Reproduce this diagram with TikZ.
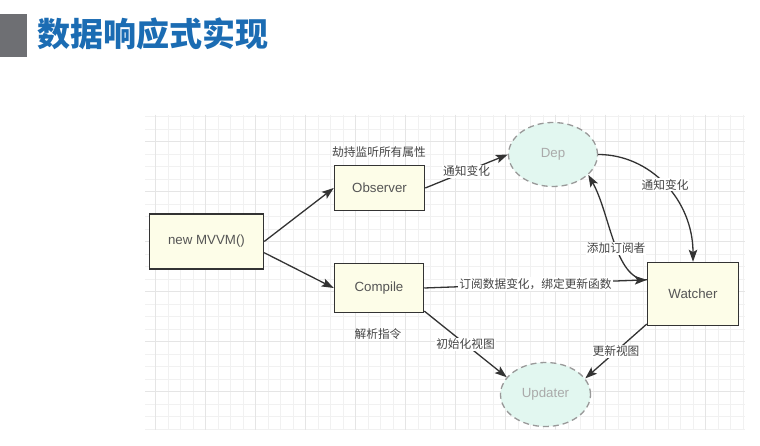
\documentclass[tikz,border=0pt]{standalone}
\usepackage{fontspec}
\setmainfont{Liberation Sans}
\newfontfamily\cjk{Noto Sans CJK SC}
\usetikzlibrary{arrows.meta,shapes.geometric}
\definecolor{boxfill}{HTML}{FDFDE8}
\definecolor{ellfill}{HTML}{E2F7F0}
\definecolor{boxline}{HTML}{333333}
\definecolor{txtgray}{HTML}{555555}
\definecolor{lbltxt}{HTML}{444444}
\definecolor{ellline}{HTML}{999999}
\definecolor{elltxt}{HTML}{AAAAAA}
\definecolor{gridminor}{HTML}{F1F1F1}
\definecolor{gridmajor}{HTML}{E5E5E5}
\definecolor{titleblue}{HTML}{1B6CB3}
\definecolor{titlegray}{HTML}{6E6F73}
\begin{document}
\begin{tikzpicture}[x=1pt,y=-1pt,
  box/.style={draw=boxline, line width=1.5pt, fill=boxfill, inner sep=0pt,
    font=\fontsize{13.3}{15}\selectfont, text=txtgray},
  ell/.style={ellipse, draw=ellline, line width=1.3pt, dash pattern=on 6pt off 4pt,
    fill=ellfill, inner sep=0pt, font=\fontsize{13.3}{15}\selectfont, text=elltxt},
  arr/.style={draw=boxline, line width=1.3pt, -{Stealth[length=12pt,width=8.5pt,inset=2.5pt]}},
  lbl/.style={midway, fill=white, inner sep=1pt, text=lbltxt, font=\cjk\fontsize{11.7}{13}\selectfont},
  txt/.style={inner sep=0pt, text=lbltxt, font=\cjk\fontsize{11.7}{13}\selectfont},
  gmin/.style={draw=gridminor, line width=0.8pt},
  gmaj/.style={draw=gridmajor, line width=0.9pt}
]
\useasboundingbox (0,0) rectangle (760,446);
\fill[white] (0,0) rectangle (760,446);
% title
\fill[titlegray] (0,14.3) rectangle (26.7,56.7);
\node[anchor=west, inner sep=0pt, text=titleblue, font=\cjk\bfseries\fontsize{33}{35}\selectfont] (title) at (37,34) {数据响应式实现};
% grid
\begin{scope}
\clip (145,115) rectangle (745,430);
\foreach \gx in {155.7,168.2,...,745} \draw[gmin] (\gx,115) -- (\gx,430);
\foreach \gy in {116.7,129.2,...,430} \draw[gmin] (145,\gy) -- (745,\gy);
\foreach \gx in {155.7,205.7,...,745} \draw[gmaj] (\gx,115) -- (\gx,430);
\foreach \gy in {141.7,191.7,...,430} \draw[gmaj] (145,\gy) -- (745,\gy);
\end{scope}
% nodes
\node[box, minimum width=114pt, minimum height=55pt] (mvvm) at (206.5,241.5) {new MVVM()};
\node[box, minimum width=90pt, minimum height=45pt] (obs) at (379.5,188) {Observer};
\node[box, minimum width=89pt, minimum height=49pt] (comp) at (379,288) {Compile};
\node[box, minimum width=91pt, minimum height=63pt] (wat) at (693,294) {Watcher};
\node[ell, minimum width=89pt, minimum height=64pt] (dep) at (553,154.5) {Dep};
\node[ell, minimum width=90pt, minimum height=64pt] (upd) at (545.5,394.5) {Updater};
\node[txt] (hijack) at (379,152) {劫持监听所有属性};
\node[txt] (parse) at (378,334) {解析指令};
% edges
\draw[arr] (mvvm.east) -- (obs.west);
\draw[arr] (mvvm.-11) -- (comp.west);
\draw[arr] (obs.east) -- node[lbl]{通知变化} (dep.west);
\draw[arr] (dep.east) .. controls +(52,0) and +(0,-62) .. node[lbl]{通知变化} (wat.north);
\draw[arr] (wat.163) .. controls +(-32,0) and +(22,39) .. node[lbl,pos=0.45]{添加订阅者} (dep.-30);
\draw[arr] (comp.east) -- node[lbl]{订阅数据变化，绑定更新函数} (wat.163);
\draw[arr] (comp.-27) -- node[lbl]{初始化视图} (upd.156);
\draw[arr] (wat.213) -- node[lbl]{更新视图} (upd.22);
\end{tikzpicture}
\end{document}
